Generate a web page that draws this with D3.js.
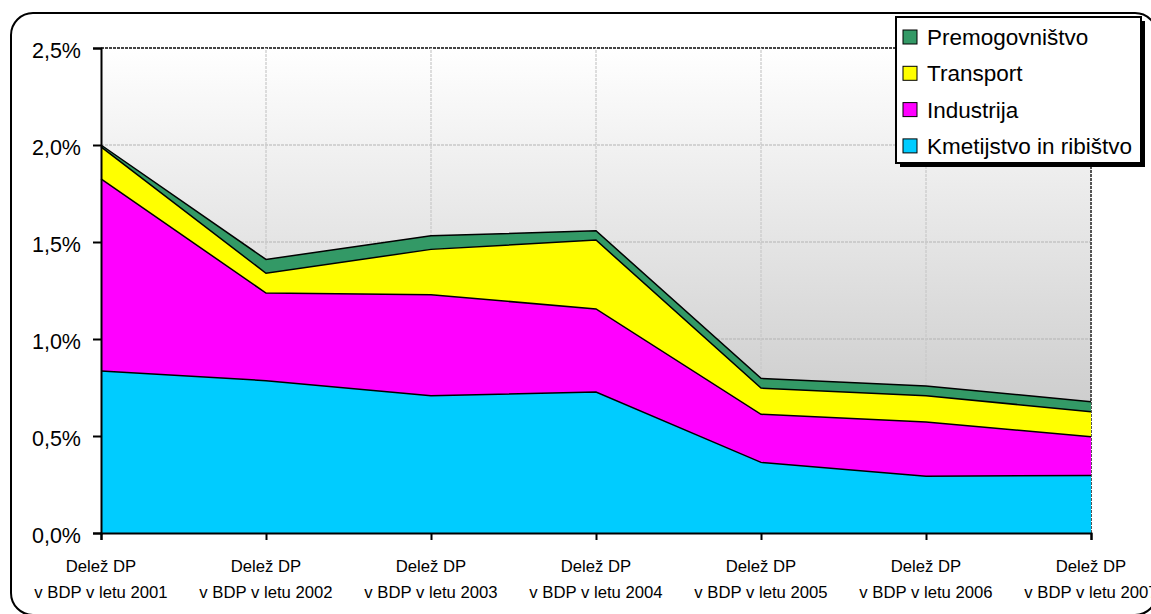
<!doctype html>
<html>
<head>
<meta charset="utf-8">
<script src="https://d3js.org/d3.v7.min.js"></script>
<style>
  body { margin: 0; background: #fff; }
  text { font-family: "Liberation Sans", Arial, sans-serif; fill: #000; }
</style>
</head>
<body>
<script>
// categories (x axis)
var years = ["2001", "2002", "2003", "2004", "2005", "2006", "2007"];
// series values in % of BDP, stacked bottom to top
var kmetijstvo = [0.835, 0.785, 0.708, 0.727, 0.364, 0.292, 0.297];
var industrija = [0.990, 0.452, 0.520, 0.428, 0.248, 0.280, 0.199];
var transport  = [0.165, 0.102, 0.234, 0.355, 0.135, 0.136, 0.129];
var premog     = [0.010, 0.071, 0.070, 0.048, 0.050, 0.050, 0.052];
var seriesNames = ["Kmetijstvo in ribištvo", "Industrija", "Transport", "Premogovništvo"];
var seriesColors = ["#00ccff", "#ff00ff", "#ffff00", "#339966"];
var yTicks = [0, 0.5, 1.0, 1.5, 2.0, 2.5];

var W = 1151, H = 614;
var svg = d3.select("body").append("svg").attr("width", W).attr("height", H);

// outer chart frame (runs past the right and bottom edges, as in the original)
svg.append("rect")
    .attr("x", 11).attr("y", 13).attr("width", 1146).attr("height", 602)
    .attr("rx", 22).attr("ry", 22)
    .attr("fill", "#fff").attr("stroke", "#000").attr("stroke-width", 2);

var x = d3.scalePoint().domain(years).range([101, 1091]);
var y = d3.scaleLinear().domain([0, 2.5]).range([533, 48]);

// plot background gradient
var defs = svg.append("defs");
var grad = defs.append("linearGradient").attr("id", "bg")
    .attr("x1", 0).attr("y1", 0).attr("x2", 0).attr("y2", 1);
grad.append("stop").attr("offset", "0%").attr("stop-color", "#ffffff");
grad.append("stop").attr("offset", "100%").attr("stop-color", "#bcbcbc");

svg.append("rect")
    .attr("x", x(years[0])).attr("y", y(2.5))
    .attr("width", x(years[6]) - x(years[0])).attr("height", y(0) - y(2.5))
    .attr("fill", "url(#bg)");

// gridlines
var grid = svg.append("g");
grid.selectAll("line.h").data(yTicks.slice(1)).enter().append("line")
    .attr("x1", x(years[0])).attr("x2", x(years[6]))
    .attr("y1", function(d) { return y(d); }).attr("y2", function(d) { return y(d); })
    .attr("stroke", function(d) { return d === 2.5 ? "#444" : "#b4b4b4"; })
    .attr("stroke-width", function(d) { return d === 2.5 ? 2 : 1.2; })
    .attr("stroke-dasharray", "3,1");
grid.selectAll("line.v").data(years.slice(1)).enter().append("line")
    .attr("y1", y(0)).attr("y2", y(2.5))
    .attr("x1", function(d) { return x(d); }).attr("x2", function(d) { return x(d); })
    .attr("stroke", function(d) { return d === "2007" ? "#555" : "#c8c8c8"; })
    .attr("stroke-width", function(d) { return d === "2007" ? 2 : 1.2; })
    .attr("stroke-dasharray", "3,1");

// stacked areas
var rows = years.map(function(yr, i) {
    return { year: yr, k: kmetijstvo[i], ind: industrija[i], t: transport[i], p: premog[i] };
});
var keys = ["k", "ind", "t", "p"];
var stack = d3.stack().keys(keys);
var layers = stack(rows);

var area = d3.area()
    .x(function(d) { return x(d.data.year); })
    .y0(function(d) { return y(d[0]); })
    .y1(function(d) { return y(d[1]); });
var topLine = d3.line()
    .x(function(d) { return x(d.data.year); })
    .y(function(d) { return y(d[1]); });

svg.append("g").selectAll("path").data(layers).enter().append("path")
    .attr("d", area)
    .attr("fill", function(d, i) { return seriesColors[i]; });
svg.append("g").selectAll("path").data(layers).enter().append("path")
    .attr("d", topLine)
    .attr("fill", "none").attr("stroke", "#000").attr("stroke-width", 1.5);

// y axis
var fmt = function(d) { return d3.format(".1f")(d).replace(".", ",") + "%"; };
var yAxis = svg.append("g")
    .attr("transform", "translate(" + x(years[0]) + ",0)")
    .call(d3.axisLeft(y).tickValues(yTicks).tickFormat(fmt).tickSize(8).tickPadding(12));
yAxis.select(".domain").attr("stroke", "#000").attr("stroke-width", 2);
yAxis.selectAll(".tick line").attr("stroke", "#000").attr("stroke-width", 2);
yAxis.selectAll(".tick text")
    .attr("font-size", 21.5).attr("font-family", "Liberation Sans, Arial, sans-serif")
    .attr("dy", "0.42em");

// x axis
var xAxis = svg.append("g")
    .attr("transform", "translate(0," + y(0) + ")")
    .call(d3.axisBottom(x).tickSize(7).tickFormat(""));
xAxis.select(".domain").attr("stroke", "#000").attr("stroke-width", 2);
xAxis.selectAll(".tick line").attr("stroke", "#000").attr("stroke-width", 2);

var xl = svg.append("g").selectAll("text").data(years).enter().append("text")
    .attr("text-anchor", "middle")
    .attr("font-size", 16.7)
    .attr("x", function(d) { return x(d); });
xl.append("tspan").attr("x", function(d) { return x(d); }).attr("y", 572).text("Delež DP");
xl.append("tspan").attr("x", function(d) { return x(d); }).attr("y", 598)
    .text(function(d) { return "v BDP v letu " + d; });

// legend
var lg = svg.append("g");
lg.append("rect").attr("x", 900).attr("y", 21).attr("width", 245).attr("height", 146).attr("fill", "#000");
lg.append("rect").attr("x", 896).attr("y", 17).attr("width", 245).attr("height", 146)
    .attr("fill", "#fff").attr("stroke", "#000").attr("stroke-width", 2);
var legendOrder = [3, 2, 1, 0];
var li = lg.selectAll("g.item").data(legendOrder).enter().append("g")
    .attr("transform", function(d, i) { return "translate(0," + (37 + i * 36.3) + ")"; });
li.append("rect").attr("x", 903).attr("y", -7).attr("width", 14).attr("height", 14)
    .attr("fill", function(d) { return seriesColors[d]; })
    .attr("stroke", "#000").attr("stroke-width", 1);
li.append("text").attr("x", 927).attr("y", 0).attr("dy", "0.36em")
    .attr("font-size", 22.5)
    .text(function(d) { return seriesNames[d]; });
</script>
</body>
</html>
